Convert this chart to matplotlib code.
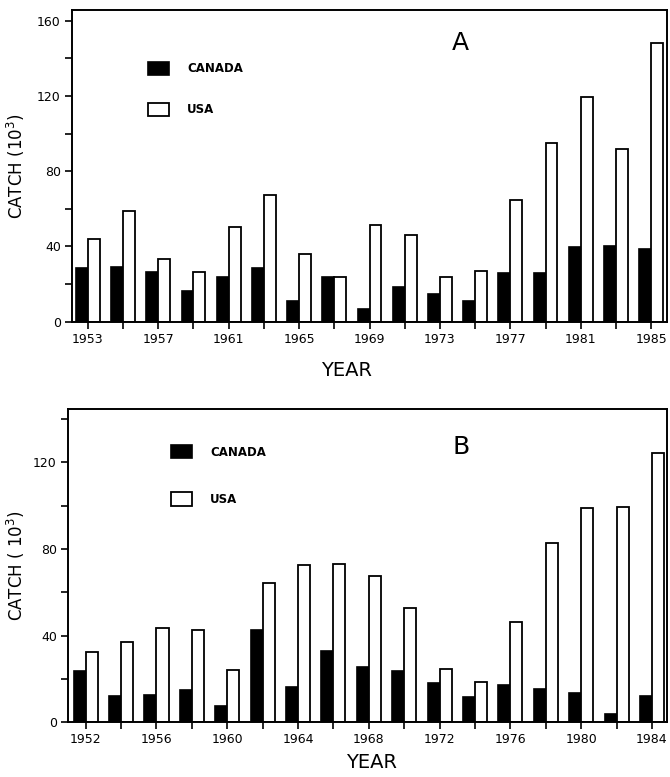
import numpy as np
from matplotlib import pyplot as plt

# panel A, odd years
years_a = np.arange(1953, 1986, 2)
canada_a = [28.5, 29, 26.5, 16.5, 23.5, 28.5, 11, 24, 7, 18.5, 14.5, 11, 26, 26, 39.5, 40.5, 38.5]
usa_a = [44, 59, 33.5, 26.5, 50.5, 67.5, 36, 24, 51.5, 46, 23.5, 27, 64.5, 95, 119.5, 92, 148]

# panel B, even years
years_b = np.arange(1952, 1985, 2)
canada_b = [23.5, 12, 12.5, 15, 7.5, 42.5, 16.5, 33, 25.5, 23.5, 18, 11.5, 17, 15.5, 13.5, 4, 12]
usa_b = [32.5, 37, 43.5, 42.5, 24, 64.5, 72.5, 73, 67.5, 53, 24.5, 18.5, 46.5, 83, 99, 99.5, 124.5]

plt.rcParams['font.family'] = ['DejaVu Sans']
fig = plt.figure(figsize=(6.7, 7.77), dpi=100)

w = 0.68


def panel(ax, years, canada, usa, xlim, ylim, yticks, ylabels, letter, letter_xy,
          leg_xy, leg_space, ylabel, ylab_x):
    can = ax.bar(years - w / 2, canada, width=w, color='black', edgecolor='black', linewidth=1.2)
    us = ax.bar(years + w / 2, usa, width=w, color='white', edgecolor='black', linewidth=1.3)
    ax.set_xlim(*xlim)
    ax.set_ylim(*ylim)
    ax.set_xticks(years)
    ax.set_xticklabels([str(y) if i % 2 == 0 else '' for i, y in enumerate(years)], fontsize=9)
    ax.set_yticks(yticks)
    ax.set_yticklabels(ylabels, fontsize=9)
    ax.tick_params(direction='out', length=5, width=1.2, pad=3)
    for s in ax.spines.values():
        s.set_linewidth(1.4)
    ax.set_ylabel(ylabel, fontsize=12)
    ax.yaxis.set_label_coords(ylab_x, 0.5)
    ax.text(letter_xy[0], letter_xy[1], letter, transform=ax.transAxes, fontsize=18,
            ha='center', va='center')
    leg = ax.legend([can, us], ['CANADA', 'USA'], loc='upper left', bbox_to_anchor=leg_xy,
                    frameon=False, borderpad=0, borderaxespad=0, handlelength=1.8,
                    handleheight=1.35, handletextpad=1.5, labelspacing=leg_space,
                    prop={'size': 8.5, 'weight': 'bold'})
    return leg


ax1 = fig.add_axes([0.1075, 0.586, 0.888, 0.401])
panel(ax1, years_a, canada_a, usa_a, (1952.1, 1985.9), (0, 165.7), range(0, 161, 20),
      ['0', '', '40', '', '80', '', '120', '', '160'], 'A', (0.652, 0.894),
      (0.128, 0.835), 2.35, 'CATCH (10$^3$)', -0.076)
fig.text(347 / 670, 1 - 370 / 777, 'YEAR', fontsize=14, ha='center', va='center')

ax2 = fig.add_axes([0.1015, 0.0704, 0.894, 0.403])
panel(ax2, years_b, canada_b, usa_b, (1951.0, 1984.85), (0, 144.6), range(0, 141, 20),
      ['0', '', '40', '', '80', '', '120', ''], 'B', (0.656, 0.879),
      (0.172, 0.885), 2.85, 'CATCH ( 10$^3$)', -0.068)
fig.text(372 / 670, 1 - 763 / 777, 'YEAR', fontsize=14, ha='center', va='center')

plt.savefig('out.png', dpi=100)
